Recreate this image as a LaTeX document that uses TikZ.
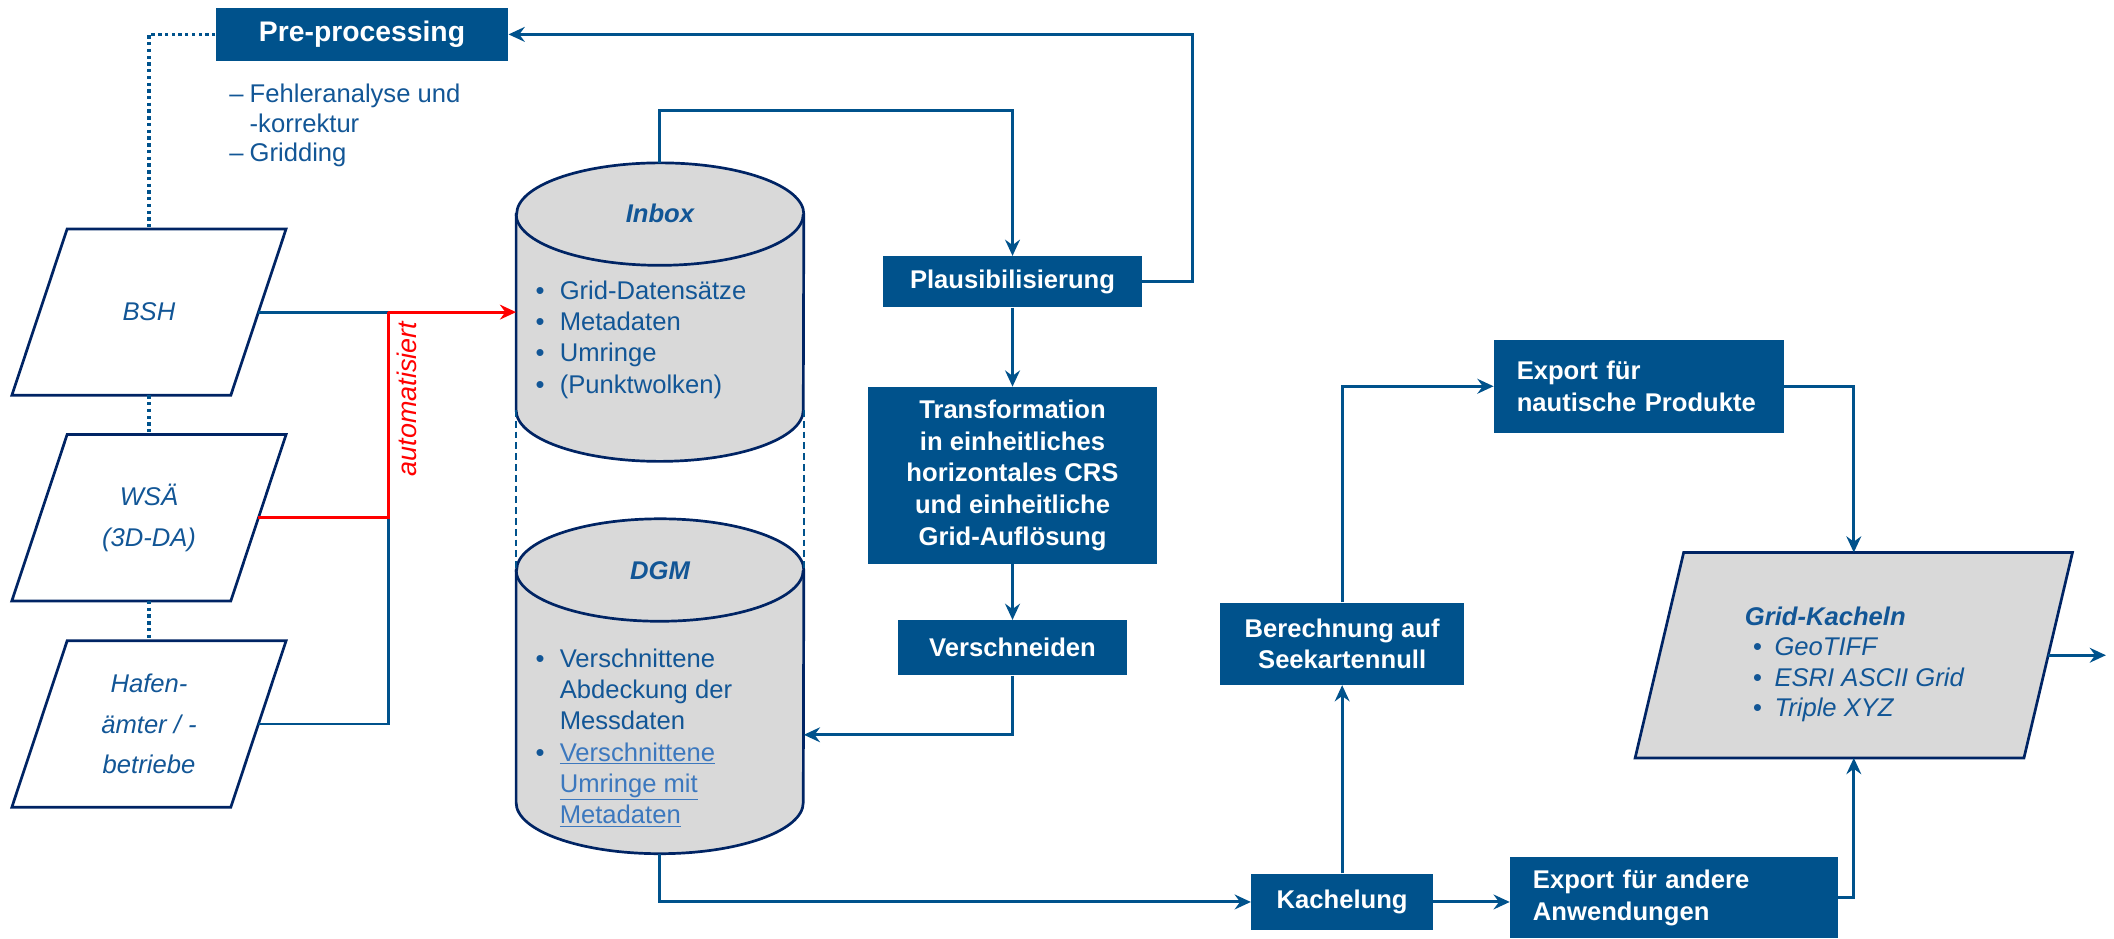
\documentclass[tikz,border=0pt]{standalone}
\usepackage{fontspec}
\usepackage{tikz}
\usepackage{xcolor}
\setmainfont{Liberation Sans}
\usetikzlibrary{arrows.meta}
\definecolor{boxblue}{RGB}{0,82,140}
\definecolor{textblue}{RGB}{18,86,150}
\definecolor{edgeblue}{RGB}{0,36,100}
\definecolor{storegray}{RGB}{217,217,217}
\definecolor{linkblue}{RGB}{60,120,190}
\definecolor{autored}{RGB}{255,0,0}
\tikzset{
    process-box/.style = {fill=boxblue, text=white, inner sep=0pt, align=center, font=\fontsize{19}{23.5}\selectfont\bfseries},
    export-box/.style = {process-box, align=left, inner xsep=17pt},
    source-box/.style = {inner sep=0pt, minimum width=162pt, minimum height=123pt, text=textblue, align=center, font=\fontsize{19}{30}\selectfont\itshape},
    source-edge/.style = {draw=edgeblue, line width=2pt, line join=miter},
    store-body/.style = {inner sep=0pt, minimum width=213pt},
    store-edge/.style = {draw=edgeblue, fill=storegray, line width=2pt},
    store-title/.style = {text=textblue, font=\fontsize{19}{23.5}\selectfont\bfseries\itshape},
    store-list/.style = {text=textblue, align=left, inner sep=0pt, anchor=north west, font=\fontsize{19}{23.2}\selectfont},
    flow/.style = {draw=boxblue, line width=2.2pt},
    flow-arrow/.style = {flow, -{Stealth[length=12pt, width=11pt, inset=4pt]}},
    auto-line/.style = {draw=autored, line width=2.2pt},
    auto-arrow/.style = {auto-line, -{Stealth[length=12pt, width=11pt, inset=4pt]}},
    auto-label/.style = {text=autored, rotate=90, font=\fontsize{20}{24}\selectfont\itshape},
    dotted-link/.style = {draw=boxblue, line width=2.5pt, dash pattern=on 2.5pt off 2.5pt},
    dashed-link/.style = {draw=boxblue, line width=1.2pt, dash pattern=on 5pt off 3pt},
}
\begin{document}
\begin{tikzpicture}[x=1pt, y=1pt]
\useasboundingbox (0,0) rectangle (1568,-696);

\node[process-box, minimum width=217pt, minimum height=39pt, font=\fontsize{21}{25}\selectfont\bfseries] (pre) at (268.5,-25.5) {Pre-processing};
\node[store-list, font=\fontsize{19}{22}\selectfont] (pre-list) at (170,-62) {\makebox[15pt][l]{–}Fehleranalyse und\\\hspace*{15pt}-korrektur\\\makebox[15pt][l]{–}Gridding};

\node[source-box] (bsh) at (110.5,-231.5) {BSH};
\node[source-box] (wsa) at (110.5,-384) {WSÄ\\(3D-DA)};
\node[source-box] (hafen) at (110.5,-537) {Hafen-\\ämter / -\\betriebe};
\draw[source-edge] ([xshift=20.5pt]bsh.north west) -- ([xshift=20.5pt]bsh.north east) -- ([xshift=-20.5pt]bsh.south east) -- ([xshift=-20.5pt]bsh.south west) -- cycle;
\draw[source-edge] ([xshift=20.5pt]wsa.north west) -- ([xshift=20.5pt]wsa.north east) -- ([xshift=-20.5pt]wsa.south east) -- ([xshift=-20.5pt]wsa.south west) -- cycle;
\draw[source-edge] ([xshift=20.5pt]hafen.north west) -- ([xshift=20.5pt]hafen.north east) -- ([xshift=-20.5pt]hafen.south east) -- ([xshift=-20.5pt]hafen.south west) -- cycle;

\node[store-body, minimum height=221pt] (inbox) at (489.5,-231.5) {};
\node[store-body, minimum height=248pt] (dgm) at (489.5,-509) {};
\draw[store-edge] ([yshift=-38pt]inbox.north west) -- ([yshift=38pt]inbox.south west) arc[start angle=180, end angle=360, x radius=106.5pt, y radius=38pt] -- ([yshift=-38pt]inbox.north east) arc[start angle=0, end angle=180, x radius=106.5pt, y radius=38pt] -- cycle;
\draw[store-edge, fill=none] ([yshift=-38pt]inbox.north west) arc[start angle=180, end angle=360, x radius=106.5pt, y radius=38pt];
\draw[store-edge] ([yshift=-38pt]dgm.north west) -- ([yshift=38pt]dgm.south west) arc[start angle=180, end angle=360, x radius=106.5pt, y radius=38pt] -- ([yshift=-38pt]dgm.north east) arc[start angle=0, end angle=180, x radius=106.5pt, y radius=38pt] -- cycle;
\draw[store-edge, fill=none] ([yshift=-38pt]dgm.north west) arc[start angle=180, end angle=360, x radius=106.5pt, y radius=38pt];
\node[store-title] (inbox-title) at (489.5,-158) {Inbox};
\node[store-list] (inbox-list) at (397,-208) {\makebox[18pt][l]{\textbullet}Grid-Datensätze\\\makebox[18pt][l]{\textbullet}Metadaten\\\makebox[18pt][l]{\textbullet}Umringe\\\makebox[18pt][l]{\textbullet}(Punktwolken)};
\node[store-title] (dgm-title) at (489.5,-423) {DGM};
\node[store-list] (dgm-list) at (397,-481) {\makebox[18pt][l]{\textbullet}Verschnittene\\\hspace*{18pt}Abdeckung der\\\hspace*{18pt}Messdaten\\\makebox[18pt][l]{\textbullet}\textcolor{linkblue}{\underline{Verschnittene}}\\\hspace*{18pt}\textcolor{linkblue}{\underline{Umringe mit}}\\\hspace*{18pt}\textcolor{linkblue}{\underline{Metadaten}}};

\node[process-box, minimum width=192pt, minimum height=38pt] (plaus) at (751,-209) {Plausibilisierung};
\node[process-box, minimum width=215pt, minimum height=131pt] (trafo) at (751,-352.5) {Transformation\\in einheitliches\\horizontales CRS\\und einheitliche\\Grid-Auflösung};
\node[process-box, minimum width=170pt, minimum height=41pt] (cut) at (751,-480.5) {Verschneiden};
\node[process-box, minimum width=135pt, minimum height=42pt] (tiling) at (995.5,-669) {Kachelung};
\node[process-box, minimum width=181pt, minimum height=61pt] (datum) at (995.5,-477.5) {Berechnung auf\\Seekartennull};
\node[export-box, text width=181pt, minimum height=69pt] (export-chart) at (1215.5,-286.5) {Export für\\nautische Produkte};
\node[export-box, text width=209pt, minimum height=60pt] (export-other) at (1241.5,-666) {Export für andere\\Anwendungen};

\node[inner sep=0pt, minimum width=288pt, minimum height=152pt] (grid-tiles) at (1375,-486) {};
\draw[store-edge, line join=miter] ([xshift=18pt]grid-tiles.north west) -- ([xshift=18pt]grid-tiles.north east) -- ([xshift=-18pt]grid-tiles.south east) -- ([xshift=-18pt]grid-tiles.south west) -- cycle;
\node[store-list, font=\fontsize{19}{22.5}\selectfont\itshape] (grid-tiles-list) at (1294,-450) {\textbf{Grid-Kacheln}\\\hspace*{6pt}\makebox[16pt][l]{\textbullet}GeoTIFF\\\hspace*{6pt}\makebox[16pt][l]{\textbullet}ESRI ASCII Grid\\\hspace*{6pt}\makebox[16pt][l]{\textbullet}Triple XYZ};
\coordinate (out) at (1562,-486);

\draw[dotted-link] (pre.west) -| (bsh.north);
\draw[dotted-link] (bsh.south) -- (wsa.north);
\draw[dotted-link] (wsa.south) -- (hafen.north);

\coordinate (merge) at (288,-231.5);
\draw[flow] (bsh.east) -- (merge);
\draw[flow] (hafen.east) -| (merge |- wsa.east);
\draw[auto-line] (wsa.east) -| (merge);
\draw[auto-arrow] (merge) -- (inbox.west);
\node[auto-label] (auto) at (302,-296) {automatisiert};

\draw[dashed-link] ([yshift=38pt]inbox.south west) -- ([yshift=-38pt]dgm.north west);
\draw[dashed-link] ([yshift=38pt]inbox.south east) -- ([yshift=-38pt]dgm.north east);

\draw[flow-arrow] (inbox.north) -- ++(0,39) -| (plaus.north);
\draw[flow-arrow] (plaus.east) -- ++(37,0) |- (pre.east);
\draw[flow-arrow] (plaus.south) -- (trafo.north);
\draw[flow-arrow] (trafo.south) -- (cut.north);
\draw[flow-arrow] (cut.south) |- ([yshift=-36pt]dgm.east);
\draw[flow-arrow] (dgm.south) |- (tiling.west);
\draw[flow-arrow] (tiling.north) -- (datum.south);
\draw[flow-arrow] (datum.north) |- (export-chart.west);
\draw[flow-arrow] (export-chart.east) -| (grid-tiles.north);
\draw[flow-arrow] (tiling.east) -- (tiling.east -| export-other.west);
\draw[flow-arrow] (export-other.east) -| (grid-tiles.south);
\draw[flow-arrow] (grid-tiles.east) -- (out);
\end{tikzpicture}
\end{document}
